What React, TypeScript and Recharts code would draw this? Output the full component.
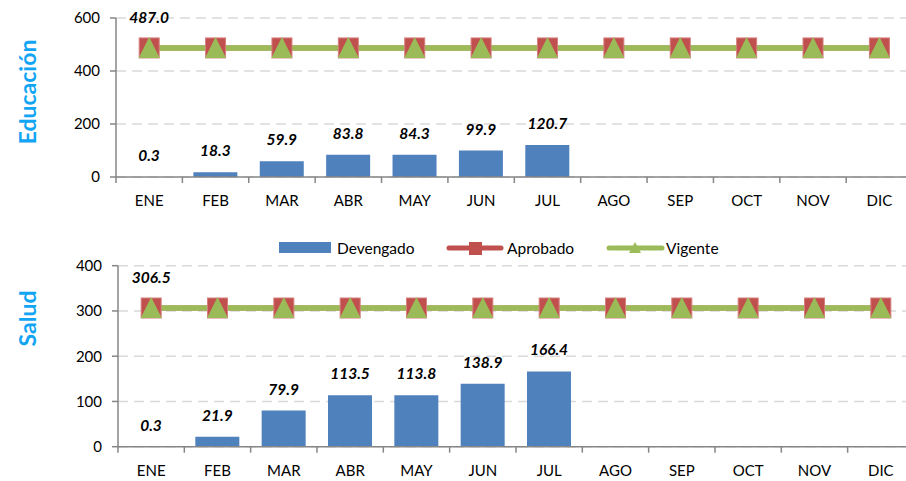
import { ComposedChart, Bar, Line, XAxis, YAxis, CartesianGrid, LabelList, Label } from "recharts"

const months = ["ENE", "FEB", "MAR", "ABR", "MAY", "JUN", "JUL", "AGO", "SEP", "OCT", "NOV", "DIC"]

const eduDevengado = [0.3, 18.3, 59.9, 83.8, 84.3, 99.9, 120.7, null, null, null, null, null]
const eduAprobado = [487.0, 487.0, 487.0, 487.0, 487.0, 487.0, 487.0, 487.0, 487.0, 487.0, 487.0, 487.0]
const eduVigente = [487.0, 487.0, 487.0, 487.0, 487.0, 487.0, 487.0, 487.0, 487.0, 487.0, 487.0, 487.0]

const saludDevengado = [0.3, 21.9, 79.9, 113.5, 113.8, 138.9, 166.4, null, null, null, null, null]
const saludAprobado = [306.5, 306.5, 306.5, 306.5, 306.5, 306.5, 306.5, 306.5, 306.5, 306.5, 306.5, 306.5]
const saludVigente = [306.5, 306.5, 306.5, 306.5, 306.5, 306.5, 306.5, 306.5, 306.5, 306.5, 306.5, 306.5]

const eduTicks = [0, 200, 400, 600]
const saludTicks = [0, 100, 200, 300, 400]

const BLUE = "#4F81BD"
const RED = "#C0504D"
const GREEN = "#9BBB59"
const TITLE = "#12A5F4"
const AXIS = "#868686"
const FONT = "Lato, 'Liberation Sans', sans-serif"
const STEP = 796.6 / 12

const buildRows = (dev: (number | null)[], apr: number[], vig: number[]) =>
    months.map((m, i) => ({ month: m, devengado: dev[i], aprobado: apr[i], vigente: vig[i] }))

const MonthTick = (props: any) => {
    const { x, y, payload, index } = props
    return (
        <g>
            <line x1={x - STEP / 2} x2={x - STEP / 2} y1={y} y2={y + 6} stroke={AXIS} strokeWidth={1.5} />
            {index === 11 && (
                <line x1={x + STEP / 2} x2={x + STEP / 2} y1={y} y2={y + 6} stroke={AXIS} strokeWidth={1.5} />
            )}
            <text x={x} y={y + 23} textAnchor="middle" dominantBaseline="central" fontSize={15} fill="#000" fontFamily={FONT}>
                {payload.value}
            </text>
        </g>
    )
}

const squareDot = (props: any) => {
    const { cx, cy, index } = props
    if (cx == null || cy == null) return <g key={`sq-${index}`} />
    return <rect key={`sq-${index}`} x={cx - 10} y={cy - 10} width={20} height={20} fill={RED} stroke="#D47F7D" strokeWidth={1} />
}

const triangleDot = (props: any) => {
    const { cx, cy, index } = props
    if (cx == null || cy == null) return <g key={`tr-${index}`} />
    return <polygon key={`tr-${index}`} points={`${cx},${cy - 11} ${cx + 10.5},${cy + 10} ${cx - 10.5},${cy + 10}`} fill={GREEN} />
}

const barLabel = (props: any) => {
    const { x, y, width, value } = props
    if (value == null) return null
    return (
        <text x={x + width / 2} y={y - 22} textAnchor="middle" dominantBaseline="central" fontSize={15.5} fontWeight="bold" fontStyle="italic" fill="#000" fontFamily={FONT}>
            {Number(value).toFixed(1)}
        </text>
    )
}

const firstPointLabel = (props: any) => {
    const { x, y, value, index } = props
    if (index !== 0) return null
    return (
        <text x={x} y={y - 31} textAnchor="middle" dominantBaseline="central" fontSize={15.5} fontWeight="bold" fontStyle="italic" fill="#000" fontFamily={FONT}>
            {Number(value).toFixed(1)}
        </text>
    )
}

interface PanelProps {
    title: string
    titleY: number
    rows: ReturnType<typeof buildRows>
    domain: [number, number]
    ticks: number[]
    height: number
    margin: { top: number; right: number; left: number; bottom: number }
}

function Panel({ title, titleY, rows, domain, ticks, height, margin }: PanelProps) {
    return (
        <ComposedChart width={920} height={height} data={rows} margin={margin}>
            <CartesianGrid vertical={false} stroke="#D9D9D9" strokeWidth={1.5} strokeDasharray="10 6" />
            <XAxis
                dataKey="month"
                height={30}
                stroke={AXIS}
                strokeWidth={1.5}
                tickLine={false}
                tickSize={0}
                tickMargin={0}
                interval={0}
                tick={<MonthTick />}
            />
            <YAxis
                width={50}
                domain={domain}
                ticks={ticks}
                stroke={AXIS}
                strokeWidth={1.5}
                tickSize={6}
                tickMargin={10}
                tick={{ fontSize: 15, fill: "#000", fontFamily: FONT }}
            >
                <Label
                    content={() => (
                        <text
                            x={27}
                            y={titleY}
                            transform={`rotate(-90 27 ${titleY})`}
                            textAnchor="middle"
                            dominantBaseline="central"
                            fontSize={23}
                            fontWeight="bold"
                            fill={TITLE}
                            fontFamily={FONT}
                        >
                            {title}
                        </text>
                    )}
                />
            </YAxis>
            <Bar dataKey="devengado" fill={BLUE} barSize={44} isAnimationActive={false}>
                <LabelList dataKey="devengado" content={barLabel} />
            </Bar>
            <Line dataKey="aprobado" stroke={RED} strokeWidth={5} dot={squareDot} activeDot={false} isAnimationActive={false} />
            <Line dataKey="vigente" stroke={GREEN} strokeWidth={5.5} dot={triangleDot} activeDot={false} isAnimationActive={false}>
                <LabelList dataKey="vigente" content={firstPointLabel} />
            </Line>
        </ComposedChart>
    )
}

function LegendRow() {
    return (
        <svg width={906} height={24} style={{ position: "absolute", left: 0, top: 236 }}>
            <rect x={279} y={6} width={52} height={11} fill={BLUE} />
            <text x={337} y={12} dominantBaseline="central" fontSize={15.5} fill="#000" fontFamily={FONT}>Devengado</text>
            <line x1={449} x2={501} y1={12} y2={12} stroke={RED} strokeWidth={5} strokeLinecap="round" />
            <rect x={469} y={6} width={13} height={13} fill={RED} />
            <text x={507} y={12} dominantBaseline="central" fontSize={15.5} fill="#000" fontFamily={FONT}>Aprobado</text>
            <line x1={609} x2={662} y1={12} y2={12} stroke={GREEN} strokeWidth={5} strokeLinecap="round" />
            <polygon points="635,6 641,17 629,17" fill={GREEN} />
            <text x={666} y={12} dominantBaseline="central" fontSize={15.5} fill="#000" fontFamily={FONT}>Vigente</text>
        </svg>
    )
}

export default function App() {
    return (
        <div style={{ position: "absolute", left: 0, top: 0, width: 906, height: 481, overflow: "hidden", background: "#fff" }}>
            <div style={{ position: "absolute", left: 0, top: 0 }}>
                <Panel
                    title="Educación"
                    titleY={92}
                    rows={buildRows(eduDevengado, eduAprobado, eduVigente)}
                    domain={[0, 600]}
                    ticks={eduTicks}
                    height={230}
                    margin={{ top: 18, right: 7.4, left: 66, bottom: 23 }}
                />
            </div>
            <LegendRow />
            <div style={{ position: "absolute", left: 0, top: 250 }}>
                <Panel
                    title="Salud"
                    titleY={68.5}
                    rows={buildRows(saludDevengado, saludAprobado, saludVigente)}
                    domain={[0, 400]}
                    ticks={saludTicks}
                    height={231}
                    margin={{ top: 15.7, right: 6, left: 68, bottom: 4.3 }}
                />
            </div>
        </div>
    )
}
